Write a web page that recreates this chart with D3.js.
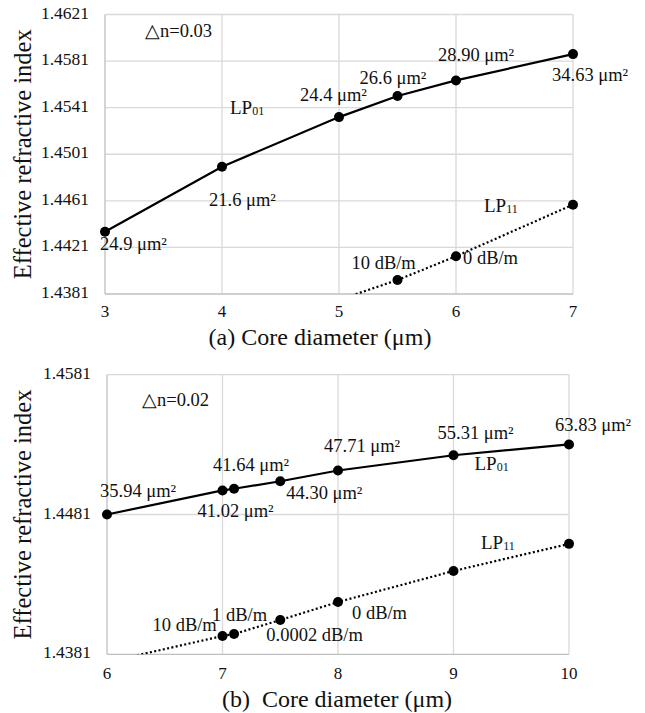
<!DOCTYPE html>
<html>
<head>
<meta charset="utf-8">
<script src="https://cdn.jsdelivr.net/npm/d3@7"></script>
<style>
  body { margin: 0; background: #fff; }
  text { font-family: "Liberation Serif", "Times New Roman", serif; fill: #111; }
</style>
</head>
<body>
<div id="viz"></div>
<script>
// panel (a): delta n = 0.03
const xTicksA = [3, 4, 5, 6, 7]
const yTicksA = [1.4381, 1.4421, 1.4461, 1.4501, 1.4541, 1.4581, 1.4621]
const diamA01 = [3, 4, 5, 5.5, 6, 7]
const neffA01 = [1.44345, 1.44903, 1.45329, 1.4551, 1.45644, 1.4587]
const areaA01 = ["24.9", "21.6", "24.4", "26.6", "28.90", "34.63"]
const diamA11 = [5, 5.5, 6, 7]
const neffA11 = [1.4376, 1.4393, 1.44134, 1.44577]
const lossA11 = ["", "10 dB/m", "0 dB/m", ""]

// panel (b): delta n = 0.02
const xTicksB = [6, 7, 8, 9, 10]
const yTicksB = [1.4381, 1.4481, 1.4581]
const diamB = [6, 7, 7.1, 7.5, 8, 9, 10]
const neffB01 = [1.4481, 1.44982, 1.44994, 1.45048, 1.45125, 1.45234, 1.45311]
const areaB01 = ["35.94", "41.02", "41.64", "44.30", "47.71", "55.31", "63.83"]
const neffB11 = [1.43754, 1.43941, 1.43955, 1.44055, 1.44184, 1.44406, 1.44600]
const lossB11 = ["", "10 dB/m", "1 dB/m", "0.0002 dB/m", "0 dB/m", "", ""]

const svg = d3.select("#viz").append("svg").attr("width", 645).attr("height", 713)

function panel(opt) {
    const x = d3.scaleLinear().domain(opt.xDomain).range([opt.left, opt.right])
    const y = d3.scaleLinear().domain(opt.yDomain).range([opt.bottom, opt.top])
    const g = svg.append("g")

    // grid
    g.selectAll(".gx").data(opt.xTicks.slice(1)).join("line")
        .attr("x1", d => x(d)).attr("x2", d => x(d))
        .attr("y1", opt.top).attr("y2", opt.bottom)
        .attr("stroke", "#d9d9d9").attr("stroke-width", 1.3)
    g.selectAll(".gy").data(opt.yTicks.slice(1)).join("line")
        .attr("x1", opt.left).attr("x2", opt.right)
        .attr("y1", d => y(d)).attr("y2", d => y(d))
        .attr("stroke", "#d9d9d9").attr("stroke-width", 1.3)
    // axis lines
    g.append("line").attr("x1", opt.left).attr("x2", opt.left).attr("y1", opt.top).attr("y2", opt.bottom)
        .attr("stroke", "#bfbfbf").attr("stroke-width", 1.3)
    g.append("line").attr("x1", opt.left).attr("x2", opt.right).attr("y1", opt.bottom).attr("y2", opt.bottom)
        .attr("stroke", "#bfbfbf").attr("stroke-width", 1.3)

    // tick labels
    g.selectAll(".ty").data(opt.yTicks).join("text")
        .attr("x", opt.left - 16).attr("y", d => y(d))
        .attr("text-anchor", "end").attr("dominant-baseline", "middle")
        .style("font-size", "17.5px").text(d3.format(".4f"))
    g.selectAll(".tx").data(opt.xTicks).join("text")
        .attr("x", d => x(d)).attr("y", opt.bottom + opt.xTickGap)
        .attr("text-anchor", "middle")
        .style("font-size", "17px").text(d => d)

    // titles
    g.append("text")
        .attr("transform", `translate(31, ${(opt.top + opt.bottom) / 2}) rotate(-90)`)
        .attr("text-anchor", "middle").style("font-size", "24.5px")
        .text("Effective refractive index")
    g.append("text")
        .attr("x", opt.titleX).attr("y", opt.bottom + opt.titleGap)
        .attr("text-anchor", "middle").style("font-size", "24px")
        .attr("xml:space", "preserve")
        .text(opt.title)

    const clipId = "clip" + opt.name
    svg.append("clipPath").attr("id", clipId).append("rect")
        .attr("x", opt.left - 8).attr("y", opt.top - 8)
        .attr("width", opt.right - opt.left + 16).attr("height", opt.bottom - opt.top + 8)
    const plot = g.append("g").attr("clip-path", `url(#${clipId})`)

    const line = d3.line().x(d => x(d[0])).y(d => y(d[1]))
    const s01 = d3.zip(opt.d01, opt.n01)
    const s11 = d3.zip(opt.d11, opt.n11)

    plot.append("path").datum(s01).attr("d", line)
        .attr("fill", "none").attr("stroke", "#000").attr("stroke-width", 2.2)
    plot.append("path").datum(s11).attr("d", line)
        .attr("fill", "none").attr("stroke", "#000").attr("stroke-width", 2.2)
        .attr("stroke-dasharray", "2,2.4")
    plot.selectAll(".p01").data(s01).join("circle")
        .attr("cx", d => x(d[0])).attr("cy", d => y(d[1])).attr("r", 5)
    plot.selectAll(".p11").data(s11.filter(d => d[1] >= opt.yDomain[0])).join("circle")
        .attr("cx", d => x(d[0])).attr("cy", d => y(d[1])).attr("r", 5)

    // mode area labels
    g.selectAll(".la").data(s01).join("text")
        .attr("x", (d, i) => x(d[0]) + opt.areaOff[i][0])
        .attr("y", (d, i) => y(d[1]) + opt.areaOff[i][1])
        .attr("dominant-baseline", "middle").style("font-size", "18.5px")
        .text((d, i) => opt.area01[i] + " \u03bcm\u00b2")
    // loss labels
    g.selectAll(".ll").data(s11).join("text")
        .attr("x", (d, i) => x(d[0]) + opt.lossOff[i][0])
        .attr("y", (d, i) => y(d[1]) + opt.lossOff[i][1])
        .attr("dominant-baseline", "middle").style("font-size", "18.5px")
        .text((d, i) => opt.loss11[i])

    // mode names
    const modeLabel = (px, py, sub) => {
        const t = g.append("text").attr("x", px).attr("y", py)
            .attr("dominant-baseline", "middle").style("font-size", "19px")
        t.append("tspan").text("LP")
        t.append("tspan").style("font-size", "12px").attr("dy", 2).text(sub)
    }
    const a = s01[opt.lp01At], b = s11[opt.lp11At]
    modeLabel(x(a[0]) + opt.lp01Off[0], y(a[1]) + opt.lp01Off[1], "01")
    modeLabel(x(b[0]) + opt.lp11Off[0], y(b[1]) + opt.lp11Off[1], "11")

    g.append("text").attr("x", opt.left + opt.dnOff[0]).attr("y", opt.top + opt.dnOff[1])
        .attr("dominant-baseline", "middle").style("font-size", "18.5px")
        .text(opt.dn)
}

panel({
    name: "a", xDomain: [3, 7], yDomain: [1.4381, 1.4621],
    left: 105, right: 573, top: 14.5, bottom: 294,
    xTicks: xTicksA, yTicks: yTicksA, xTickGap: 23, titleGap: 51, titleX: 320,
    title: "(a) Core diameter (\u03bcm)",
    d01: diamA01, n01: neffA01, d11: diamA11, n11: neffA11,
    area01: areaA01, loss11: lossA11,
    areaOff: [[-5, 14], [-13, 35], [-39, -20], [-38, -16], [-18, -24], [-21, 23]],
    lossOff: [[0, 0], [-46, -15], [7, 3], [0, 0]],
    lp01At: 1, lp01Off: [8, -57], lp11At: 3, lp11Off: [-89, 3],
    dn: "\u25b3n=0.03", dnOff: [40, 18]
})

panel({
    name: "b", xDomain: [6, 10], yDomain: [1.4381, 1.4581],
    left: 107, right: 569, top: 374.7, bottom: 654.3,
    xTicks: xTicksB, yTicks: yTicksB, xTickGap: 25, titleGap: 53, titleX: 337,
    title: "(b)  Core diameter (\u03bcm)",
    d01: diamB, n01: neffB01, d11: diamB, n11: neffB11,
    area01: areaB01, loss11: lossB11,
    areaOff: [[-7, -22], [-25, 22], [-21, -22], [6, 14], [-14, -23], [-16, -20], [-14, -18]],
    lossOff: [[0, 0], [-70, -9], [-22, -17], [-14, 17], [14, 13], [0, 0], [0, 0]],
    lp01At: 5, lp01Off: [21, 11], lp11At: 6, lp11Off: [-88, 1],
    dn: "\u25b3n=0.02", dnOff: [35, 27]
})
</script>
</body>
</html>
